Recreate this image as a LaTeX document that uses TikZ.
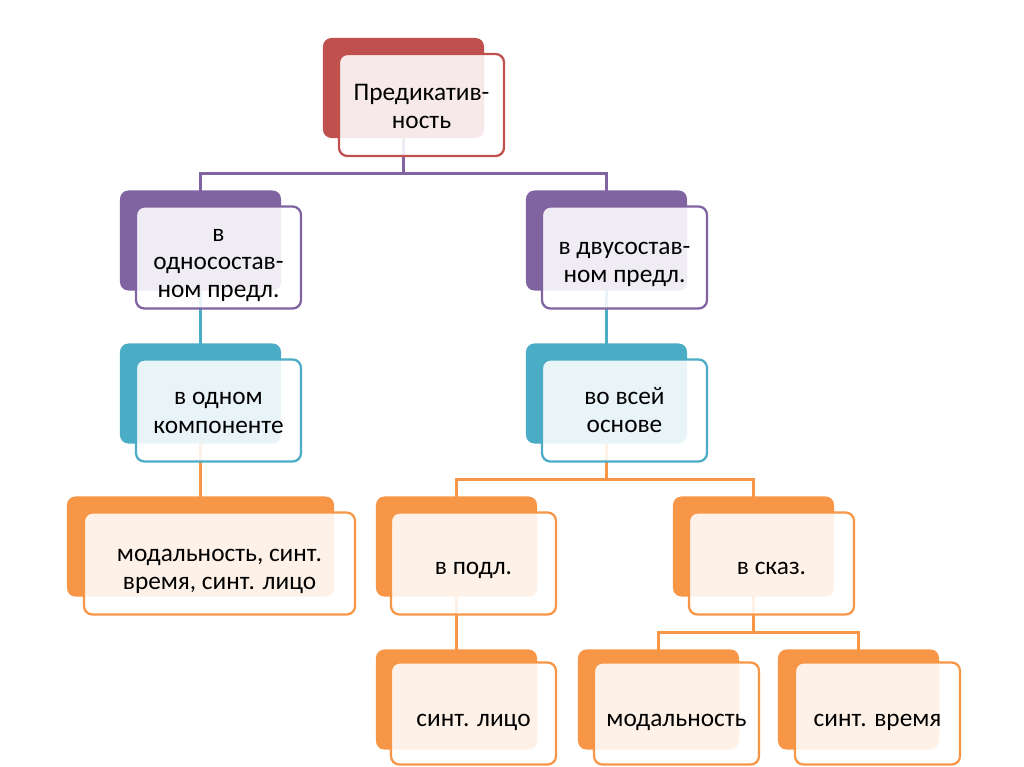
\documentclass[tikz,border=0pt]{standalone}
\usepackage{fontspec}
\setmainfont{Carlito}
\usepackage{tikz}
\usetikzlibrary{calc,backgrounds}
\definecolor{predred}{RGB}{192, 80, 77}
\definecolor{sostviolet}{RGB}{128, 100, 162}
\definecolor{komteal}{RGB}{75, 172, 198}
\definecolor{priznorange}{RGB}{247, 150, 70}

% extra room above the first line of a box
\newcommand{\topgap}[1]{\rule{0pt}{#1}}

\tikzset{
  backbox/.style={fill=#1, rounded corners=6pt, inner sep=0pt,
    minimum width=4.025cm, minimum height=2.5cm},
  frontbox/.style={draw=#1, line width=1.6pt, fill=white, fill opacity=0.88,
    text opacity=1, rounded corners=6pt, inner sep=2pt,
    minimum width=4.125cm, minimum height=2.55cm, align=center,
    font=\fontsize{18}{20}\selectfont, toptext=18pt,
    execute at end node={\vphantom{р}}},
  toptext/.style={execute at begin node={\rule{0pt}{#1}}},
  link/.style={draw=#1, line width=1.9pt}
}

\begin{document}
\begin{tikzpicture}[x=0.025cm, y=-0.025cm]
  \useasboundingbox (0,0) rectangle (1024,767);

  % top
  \node[backbox=predred] (pred-b) at (403.5,88) {};
  \node[frontbox=predred] (pred) at ($(pred-b)+(18,17)$) {\topgap{16pt}Предикатив-\\ность};

  % second row
  \node[backbox=sostviolet] (odno-b) at (200.5,240.5) {};
  \node[frontbox=sostviolet] (odno) at ($(odno-b)+(18,17)$) {\topgap{20pt}в\\односостав-\\ном предл.};
  \node[backbox=sostviolet] (dvu-b) at (606.5,240.5) {};
  \node[frontbox=sostviolet] (dvu) at ($(dvu-b)+(18,17)$) {\topgap{19pt}в двусостав-\\ном предл.};

  % third row
  \node[backbox=komteal] (komp-b) at (200.5,393.5) {};
  \node[frontbox=komteal] (komp) at ($(komp-b)+(18,17)$) {\topgap{15pt}в одном\\компоненте};
  \node[backbox=komteal] (osn-b) at (606.5,393.5) {};
  \node[frontbox=komteal] (osn) at ($(osn-b)+(18,17)$) {\topgap{14pt}во всей\\основе};

  % fourth row
  \node[backbox=priznorange, minimum width=6.675cm] (vse-b) at (200.5,546.5) {};
  \node[frontbox=priznorange, minimum width=6.775cm] (vse) at ($(vse-b)+(19,17)$) {\topgap{19.5pt}модальность, синт.\\время, синт. лицо};
  \node[backbox=priznorange] (podl-b) at (456.5,546.5) {};
  \node[frontbox=priznorange] (podl) at ($(podl-b)+(17,17)$) {в подл.};
  \node[backbox=priznorange] (skaz-b) at (753.5,546.5) {};
  \node[frontbox=priznorange] (skaz) at ($(skaz-b)+(18,17)$) {в сказ.};

  % fifth row
  \node[backbox=priznorange] (lico-b) at (456.5,699.5) {};
  \node[frontbox=priznorange, toptext=21pt] (lico) at ($(lico-b)+(17,14)$) {синт. лицо};
  \node[backbox=priznorange] (mod-b) at (658.5,699.5) {};
  \node[frontbox=priznorange, toptext=21pt] (mod) at ($(mod-b)+(18,14)$) {модальность};
  \node[backbox=priznorange] (vrem-b) at (858.5,699.5) {};
  \node[frontbox=priznorange, toptext=21pt] (vrem) at ($(vrem-b)+(19,14)$) {синт. время};

  % connectors
  \begin{scope}[on background layer]
    \draw[link=sostviolet] (pred-b.center) |- ($(pred.south)!.5!(odno-b.north)$) -| (odno-b.center);
    \draw[link=sostviolet] (pred-b.center) |- ($(pred.south)!.5!(dvu-b.north)$) -| (dvu-b.center);
    \draw[link=komteal] (odno-b.center) -- (komp-b.center);
    \draw[link=komteal] (dvu-b.center) -- (osn-b.center);
    \draw[link=priznorange] (komp-b.center) -- (vse-b.center);
    \draw[link=priznorange] (osn-b.center) |- ($(osn.south)!.5!(podl-b.north)$) -| (podl-b.center);
    \draw[link=priznorange] (osn-b.center) |- ($(osn.south)!.5!(skaz-b.north)$) -| (skaz-b.center);
    \draw[link=priznorange] (podl-b.center) -- (lico-b.center);
    \draw[link=priznorange] (skaz-b.center) |- ($(skaz.south)!.5!(mod-b.north)$) -| (mod-b.center);
    \draw[link=priznorange] (skaz-b.center) |- ($(skaz.south)!.5!(vrem-b.north)$) -| (vrem-b.center);
  \end{scope}
\end{tikzpicture}
\end{document}
